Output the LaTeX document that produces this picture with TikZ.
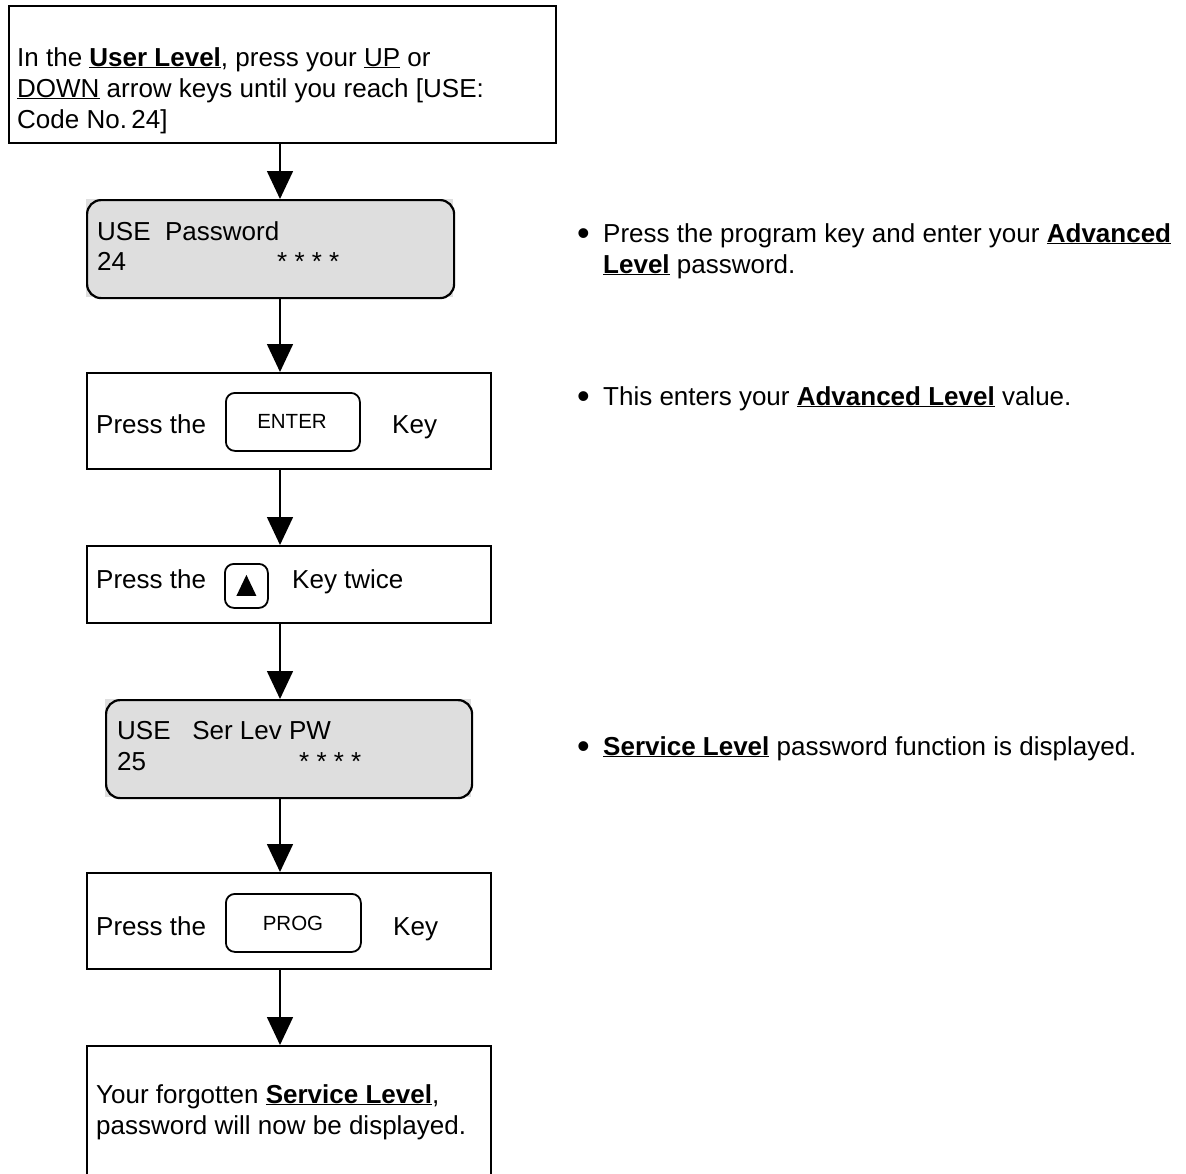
\documentclass[tikz,border=0pt]{standalone}
\usepackage{fontspec}
\setmainfont{Liberation Sans}
\usepackage{xcolor}
\definecolor{lcdgray}{HTML}{DEDEDE}
\usetikzlibrary{arrows.meta}
\tikzset{
  stepbox/.style={
    rectangle, draw=black, line width=1.6pt, anchor=north west,
    inner sep=0pt
  },
  lcdfill/.style={
    rectangle, fill=lcdgray, anchor=north west, inner sep=0pt
  },
  lcdbox/.style={
    rectangle, rounded corners=14pt, draw=black, line width=2.2pt,
    anchor=north west, inner sep=0pt
  },
  keybox/.style={
    rectangle, rounded corners=9pt, draw=black, line width=1.8pt,
    anchor=north west, inner sep=0pt
  },
  bodytext/.style={anchor=base west, inner sep=0pt, font=\fontsize{26}{31}\selectfont},
  keytext/.style={anchor=base, inner sep=0pt, font=\fontsize{20.5}{24}\selectfont},
  dottext/.style={anchor=base west, inner sep=0pt, font=\fontsize{36}{31}\selectfont},
  flowarrow/.style={-{Triangle[width=26pt,length=28pt]}, line width=1.6pt}
}
\newcommand{\lvl}[1]{\underline{\textbf{#1}}}

\begin{document}
\begin{tikzpicture}[x=1pt,y=-1pt]
  \useasboundingbox (0,0) rectangle (1186,1173);
  \clip (0,0) rectangle (1186,1173);
  \coordinate (spine) at (280,0);

  % flow of steps
  \node[stepbox, minimum width=547pt, minimum height=137pt] (intro) at (8,5) {};
  \node[bodytext] (introA) at (17,66) {In the \lvl{User Level}, press your \underline{UP} or};
  \node[bodytext] (introB) at (17,97) {\underline{DOWN} arrow keys until you reach [USE:};
  \node[bodytext] (introC) at (17,128) {Code No.\,24]};

  \node[lcdfill, minimum width=367pt, minimum height=98pt] (lcdAbg) at (86,199) {};
  \node[lcdbox, minimum width=367pt, minimum height=98pt] (lcdA) at (86,199) {};
  \node[bodytext] (lcdAtop) at (97,240) {USE\ \ Password};
  \node[bodytext] (lcdAcode) at (97,270) {24};
  \node[bodytext] (lcdAstars) at (277,270) {* * * *};

  \node[stepbox, minimum width=404pt, minimum height=96pt] (enterstep) at (86,372) {};
  \node[bodytext] (enterA) at (96,433) {Press the};
  \node[keybox, minimum width=134pt, minimum height=58pt] (enterkey) at (225,392) {};
  \node[keytext] (enterlbl) at (292,428) {ENTER};
  \node[bodytext] (enterB) at (392,433) {Key};

  \node[stepbox, minimum width=404pt, minimum height=77pt] (upstep) at (86,545) {};
  \node[bodytext] (upA) at (96,588) {Press the};
  \node[keybox, minimum width=43pt, minimum height=44pt] (upkey) at (224,563) {};
  \fill (upkey.center) ++(-10,10) -- ++(20,0) -- ++(-10,-21) -- cycle;
  \node[bodytext] (upB) at (292,588) {Key twice};

  \node[lcdfill, minimum width=366pt, minimum height=98pt] (lcdBbg) at (105,699) {};
  \node[lcdbox, minimum width=366pt, minimum height=98pt] (lcdB) at (105,699) {};
  \node[bodytext] (lcdBtop) at (117,739) {USE\ \ \ Ser Lev PW};
  \node[bodytext] (lcdBcode) at (117,770) {25};
  \node[bodytext] (lcdBstars) at (299,770) {* * * *};

  \node[stepbox, minimum width=404pt, minimum height=96pt] (progstep) at (86,872) {};
  \node[bodytext] (progA) at (96,935) {Press the};
  \node[keybox, minimum width=135pt, minimum height=58pt] (progkey) at (225,893) {};
  \node[keytext] (proglbl) at (293,930) {PROG};
  \node[bodytext] (progB) at (393,935) {Key};

  \node[stepbox, minimum width=404pt, minimum height=170pt] (result) at (86,1045) {};
  \node[bodytext] (resultA) at (96,1103) {Your forgotten \lvl{Service Level},};
  \node[bodytext] (resultB) at (96,1134) {password will now be displayed.};

  \draw[flowarrow] (intro.south -| spine) -- (lcdA.north -| spine);
  \draw[flowarrow] (lcdA.south -| spine) -- (enterstep.north -| spine);
  \draw[flowarrow] (enterstep.south -| spine) -- (upstep.north -| spine);
  \draw[flowarrow] (upstep.south -| spine) -- (lcdB.north -| spine);
  \draw[flowarrow] (lcdB.south -| spine) -- (progstep.north -| spine);
  \draw[flowarrow] (progstep.south -| spine) -- (result.north -| spine);

  % notes on the right
  \node[dottext] (dotA) at (577,245) {\textbullet};
  \node[bodytext] (noteA1) at (603,242) {Press the program key and enter your \lvl{Advanced}};
  \node[bodytext] (noteA2) at (603,273) {\lvl{Level} password.};
  \node[dottext] (dotB) at (577,408) {\textbullet};
  \node[bodytext] (noteB) at (603,405) {This enters your \lvl{Advanced Level} value.};
  \node[dottext] (dotC) at (577,758) {\textbullet};
  \node[bodytext] (noteC) at (603,755) {\lvl{Service Level} password function is displayed.};
\end{tikzpicture}
\end{document}
